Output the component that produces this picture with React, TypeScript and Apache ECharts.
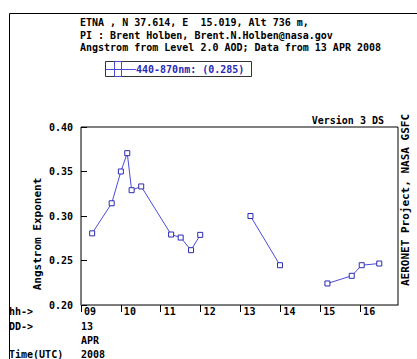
import React, { useEffect, useRef } from "react";
import * as echarts from "echarts";

// Hour of day (UTC) on 13 APR 2008 and Angstrom exponent 440-870nm
const HOURS = [9.28, 9.77, 10.0, 10.16, 10.27, 10.51, 11.26, 11.5, 11.76, 11.99, 13.25, 13.99, 15.18, 15.79, 16.04, 16.48];
const ANGSTROM = [0.2805, 0.3143, 0.35, 0.3706, 0.329, 0.3332, 0.2792, 0.2758, 0.2616, 0.2788, 0.3, 0.2447, 0.2242, 0.2328, 0.2447, 0.2466];
const X_TICKS = [9, 10, 11, 12, 13, 14, 15, 16];
const HEADER = [
  "ETNA , N 37.614, E  15.019, Alt 736 m,",
  "PI : Brent Holben, Brent.N.Holben@nasa.gov",
  "Angstrom from Level 2.0 AOD; Data from 13 APR 2008",
];
const LEGEND_TEXT = "440-870nm: (0.285)";
const MAX_GAP_HOURS = 1;

const FONT = '"DejaVu Sans Mono", monospace';
const LINE_COLOR = "#4b4bdc";
const MARK_COLOR = "#2a2ab4";

export default function App() {
  const ref = useRef<HTMLDivElement>(null);
  useEffect(() => {
    if (!ref.current) return;
    const chart = echarts.init(ref.current, null, { renderer: "svg" });

    const data: any[] = [];
    HOURS.forEach((h, i) => {
      if (i > 0 && h - HOURS[i - 1] > MAX_GAP_HOURS) {
        data.push([(h + HOURS[i - 1]) / 2, "-"]);
      }
      data.push([h, ANGSTROM[i]]);
    });

    const txt = (x: number, y: number, text: string, opts: any = {}) => ({
      type: "text",
      x,
      y,
      rotation: opts.rotation || 0,
      style: {
        text,
        fill: opts.fill || "#000",
        font: `bold ${opts.size || 10}px ${FONT}`,
        textAlign: opts.align || "left",
        textVerticalAlign: "middle",
      },
    });

    const graphic: any[] = [
      { type: "line", shape: { x1: 9.5, y1: 13.5, x2: 417, y2: 13.5 }, style: { stroke: "#000", lineWidth: 1 } },
      { type: "line", shape: { x1: 9.5, y1: 13.5, x2: 9.5, y2: 359 }, style: { stroke: "#000", lineWidth: 1 } },
      txt(80, 22, HEADER[0]),
      txt(80, 35, HEADER[1]),
      txt(80, 47, HEADER[2]),
      { type: "rect", shape: { x: 105.5, y: 61.5, width: 146, height: 15 }, style: { fill: "none", stroke: "#333", lineWidth: 1 } },
      { type: "line", shape: { x1: 105.5, y1: 69.5, x2: 136, y2: 69.5 }, style: { stroke: LINE_COLOR, lineWidth: 1 } },
      { type: "rect", shape: { x: 114.5, y: 61.5, width: 7, height: 15 }, style: { fill: "none", stroke: LINE_COLOR, lineWidth: 1 } },
      txt(136, 69.5, LEGEND_TEXT, { fill: MARK_COLOR }),
      txt(384, 120, "Version 3 DS", { align: "right" }),
      txt(405, 200, "AERONET Project, NASA GSFC", { size: 11, align: "center", rotation: Math.PI / 2 }),
      txt(37, 234, "Angstrom Exponent", { size: 11, align: "center", rotation: Math.PI / 2 }),
      txt(9, 311, "hh->"),
      txt(9, 326, "DD->"),
      txt(9, 354, "Time(UTC)"),
      txt(81, 326, "13"),
      txt(81, 340, "APR"),
      txt(81, 354, "2008"),
    ];

    chart.setOption({
      animation: false,
      backgroundColor: "#fff",
      grid: { left: 81, top: 127, width: 317, height: 178, show: true, borderColor: "#000", borderWidth: 1, containLabel: false },
      xAxis: {
        type: "value",
        min: 9,
        max: 16.95,
        interval: 1,
        axisLine: { lineStyle: { color: "#777" } },
        axisTick: { show: true, inside: false, length: 7, lineStyle: { color: "#000" }, customValues: X_TICKS },
        axisLabel: {
          customValues: X_TICKS,
          formatter: (v: number) => String(v).padStart(2, "0"),
          align: "left",
          padding: [0, 0, 0, 3],
          margin: 1,
          color: "#000",
          fontFamily: FONT,
          fontWeight: "bold",
          fontSize: 10,
        },
        splitLine: { show: false },
      },
      yAxis: {
        type: "value",
        min: 0.2,
        max: 0.4,
        interval: 0.05,
        axisLine: { show: true, lineStyle: { color: "#777" } },
        axisTick: { show: true, inside: true, length: 6, lineStyle: { color: "#000" } },
        axisLabel: {
          formatter: (v: number) => v.toFixed(2),
          margin: 8,
          color: "#000",
          fontFamily: FONT,
          fontWeight: "bold",
          fontSize: 10,
        },
        splitLine: { show: false },
      },
      series: [
        {
          type: "line",
          data,
          connectNulls: false,
          symbol: "rect",
          symbolSize: 5,
          lineStyle: { color: LINE_COLOR, width: 1 },
          itemStyle: { color: "#fff", borderColor: MARK_COLOR, borderWidth: 1 },
        },
      ],
      graphic,
    });
    return () => chart.dispose();
  }, []);
  return <div ref={ref} style={{ position: "absolute", left: 0, top: 0, width: 417, height: 359 }} />;
}
